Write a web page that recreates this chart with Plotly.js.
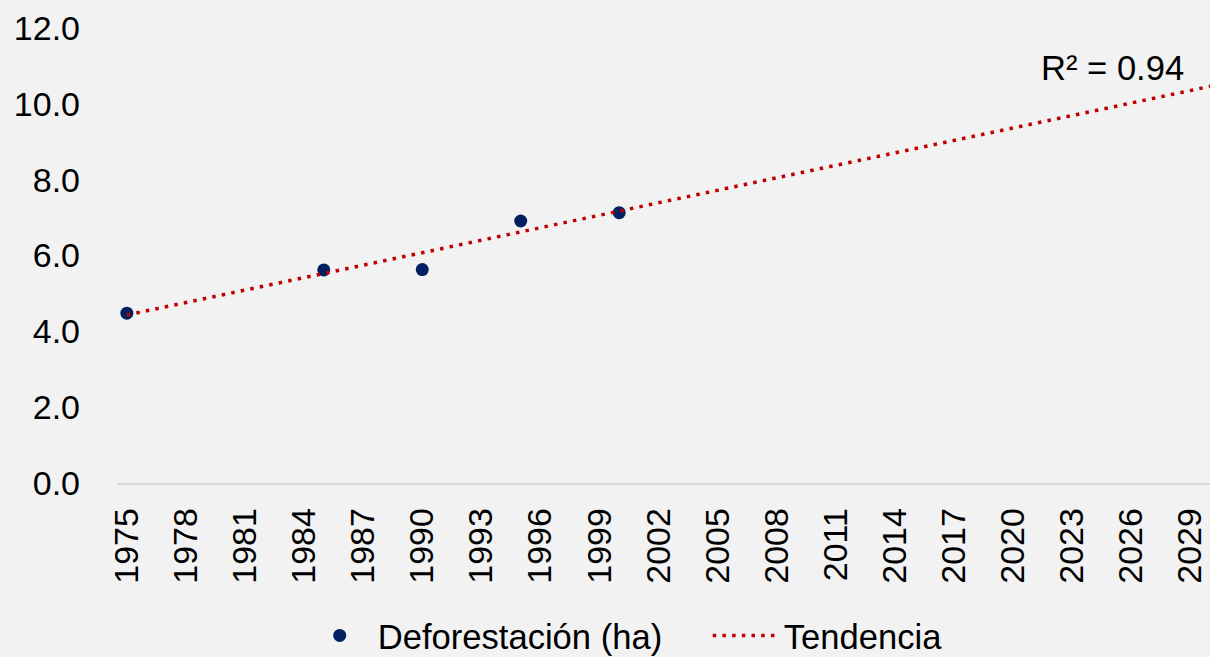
<!DOCTYPE html>
<html>
<head>
<meta charset="utf-8">
<script src="https://cdn.plot.ly/plotly-3.0.1.min.js"></script>
<style>
  html, body { margin: 0; padding: 0; background: #f2f2f2; }
  #chart { width: 1210px; height: 657px; }
</style>
</head>
<body>
<div id="chart"></div>
<script>
// Observed data
const years = [1975, 1985, 1990, 1995, 2000];
const deforestation = [4.48, 5.62, 5.63, 6.91, 7.13];

// Trend line endpoints
const trendYears = [1975, 2031];
const trendValues = [4.43, 10.57];

// Tick labels for the x axis
const xTickYears = [1975, 1978, 1981, 1984, 1987, 1990, 1993, 1996, 1999, 2002,
                    2005, 2008, 2011, 2014, 2017, 2020, 2023, 2026, 2029];
const yTicks = [0, 2, 4, 6, 8, 10, 12];
const r2Label = "R² = 0.94";

const FONT = '"Liberation Sans", Arial, sans-serif';

const traces = [
  {
    x: years, y: deforestation,
    type: 'scatter', mode: 'markers',
    name: 'Deforestación (ha)',
    marker: { color: '#002060', size: 13 },
    hoverinfo: 'x+y'
  },
  {
    x: trendYears, y: trendValues,
    type: 'scatter', mode: 'lines',
    name: 'Tendencia',
    line: { color: '#c00000', width: 3.5, dash: '3.5px,6.2px' },
    hoverinfo: 'skip'
  }
];

const layout = {
  width: 1210, height: 657,
  paper_bgcolor: '#f2f2f2',
  plot_bgcolor: '#f2f2f2',
  margin: { l: 117, r: 0, t: 28, b: 174, autoexpand: false },
  font: { family: FONT, size: 34, color: '#000000' },
  showlegend: true,
  legend: {
    orientation: 'h',
    x: 0.169, xanchor: 'left',
    y: -0.335, yanchor: 'middle',
    font: { family: FONT, size: 34.6, color: '#000000' },
    bgcolor: 'rgba(0,0,0,0)',
    itemwidth: 66,
    entrywidth: 325,
    entrywidthmode: 'pixels',
    tracegroupgap: 0
  },
  xaxis: {
    range: [1974.5, 2030.0],
    tickmode: 'array',
    tickvals: xTickYears,
    ticktext: xTickYears.map(String),
    tickangle: -90,
    ticks: '',
    ticklabelstandoff: 10,
    ticklabeloverflow: 'allow',
    automargin: false,
    showgrid: false,
    zeroline: false,
    showline: true,
    linecolor: '#d9d9d9',
    linewidth: 1.5,
    tickfont: { family: FONT, size: 34, color: '#000000' },
    fixedrange: true
  },
  yaxis: {
    range: [0, 12],
    tickmode: 'array',
    tickvals: yTicks,
    ticktext: yTicks.map(v => v.toFixed(1)),
    ticks: '',
    ticklabelstandoff: 36,
    automargin: false,
    showgrid: false,
    zeroline: false,
    showline: false,
    tickfont: { family: FONT, size: 34, color: '#000000' },
    fixedrange: true
  },
  annotations: [
    {
      x: 2025.05, y: 10.95, xref: 'x', yref: 'y',
      text: r2Label, showarrow: false,
      xanchor: 'center', yanchor: 'middle',
      font: { family: FONT, size: 34.6, color: '#000000' }
    }
  ]
};

Plotly.newPlot('chart', traces, layout, { displayModeBar: false, staticPlot: true });
</script>
</body>
</html>
